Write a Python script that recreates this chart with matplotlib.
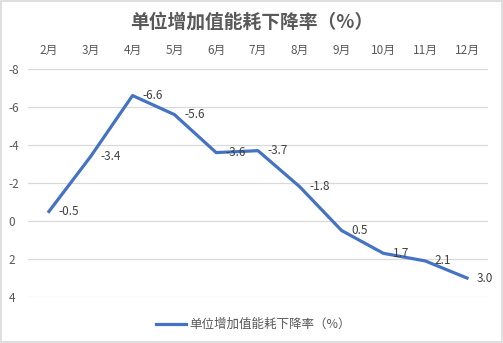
import matplotlib.pyplot as plt
from matplotlib.patches import Rectangle

plt.rcParams['font.family'] = ['Noto Sans CJK SC', 'DejaVu Sans']

months = ["2月", "3月", "4月", "5月", "6月", "7月", "8月", "9月", "10月", "11月", "12月"]
rate = [-0.5, -3.4, -6.6, -5.6, -3.6, -3.7, -1.8, 0.5, 1.7, 2.1, 3.0]
labels = ["-0.5", "-3.4", "-6.6", "-5.6", "-3.6", "-3.7", "-1.8", "0.5", "1.7", "2.1", "3.0"]
yticks = [-8, -6, -4, -2, 0, 2, 4]
title = "单位增加值能耗下降率（%）"

grey = "#595959"

fig = plt.figure(figsize=(5.03, 3.43), dpi=100)
ax = fig.add_axes([0.0557, 0.134, 0.9143, 0.665])

x = list(range(len(months)))
ax.plot(x, rate, color="#4472C4", lw=2.3, solid_joinstyle="round", label=title)

for xi, yi, t in zip(x, rate, labels):
    ax.annotate(t, (xi, yi), xytext=(7, 0), textcoords="offset points",
                ha="left", va="center", fontsize=8.5, color="#404040")

ax.set_xlim(-0.5, len(months) - 0.5)
ax.set_ylim(4, -8)
ax.set_yticks(yticks)
ax.set_yticklabels([str(v) for v in yticks])
ax.set_xticks(x)
ax.set_xticklabels(months)
ax.xaxis.tick_top()
ax.tick_params(axis="both", length=0, labelsize=8.5, labelcolor=grey)
ax.tick_params(axis="x", pad=9)
ax.tick_params(axis="y", pad=14)
for lab in ax.get_yticklabels():
    lab.set_horizontalalignment("left")
ax.grid(axis="y", color="#D9D9D9", lw=0.9)
ax.set_axisbelow(True)
for s in ax.spines.values():
    s.set_visible(False)

fig.text(0.5, 0.935, title, ha="center", va="center", fontsize=13.5,
         fontweight="bold", color=grey)

ax.legend(loc="center", bbox_to_anchor=(0.49, -0.12), frameon=False,
          fontsize=9, labelcolor=grey, handlelength=2.4, handletextpad=0.2)

fig.patches.append(Rectangle((0.002, 0.003), 0.996, 0.994, transform=fig.transFigure,
                             fill=False, edgecolor="#D9D9D9", lw=1.2))

fig.savefig("out.png", dpi=100)
